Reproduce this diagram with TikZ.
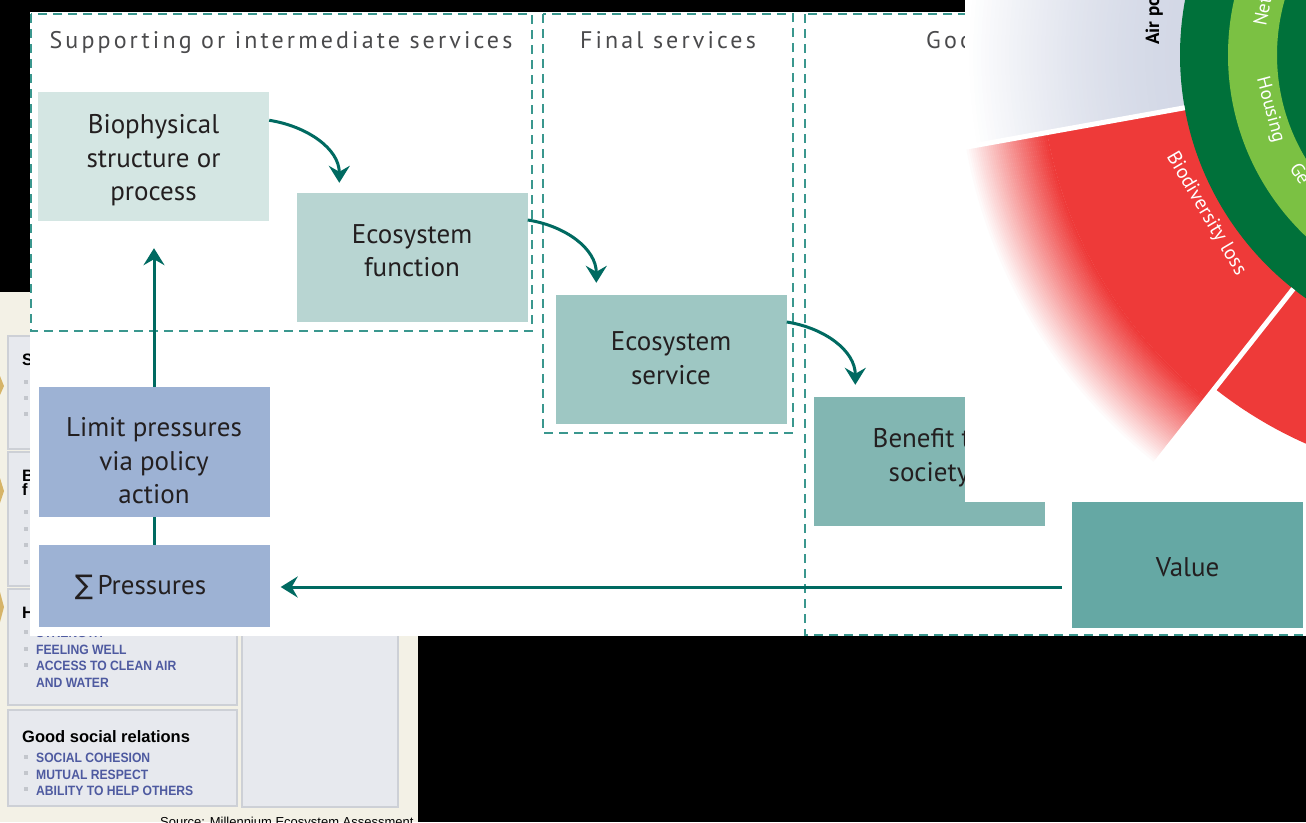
\documentclass[tikz,border=0pt]{standalone}
\usepackage{fontspec}
\setmainfont{PT Sans}
\newfontfamily\titlefont[LetterSpace=13]{PT Sans}
\newfontfamily\arialfont{Liberation Sans}
\newfontfamily\symbfont{DejaVu Sans}
\usetikzlibrary{arrows.meta,calc}
\definecolor{bgbeige}{HTML}{F3F1E6}
\definecolor{panelc}{HTML}{E7E9EE}
\definecolor{paneledge}{HTML}{CDD0D6}
\definecolor{bulletc}{HTML}{C3C6CC}
\definecolor{bluetext}{HTML}{4E5AA0}
\definecolor{tanc}{HTML}{D6B468}
\definecolor{dashc}{HTML}{3A978E}
\definecolor{arrc}{HTML}{006A61}
\definecolor{titlec}{HTML}{4A4A4C}
\definecolor{textc}{HTML}{231F20}
\definecolor{cbio}{HTML}{D4E6E3}
\definecolor{cfunc}{HTML}{B8D5D2}
\definecolor{cserv}{HTML}{9EC7C3}
\definecolor{cben}{HTML}{82B6B2}
\definecolor{cval}{HTML}{65A8A4}
\definecolor{cpress}{HTML}{9DB2D4}
\definecolor{piered}{HTML}{EE3A39}
\definecolor{piegrey}{HTML}{D3D8E6}
\definecolor{dgreen}{HTML}{00713A}
\definecolor{lgreen}{HTML}{7BC143}
\tikzset{
  flowbox/.style={fill=#1, minimum width=231pt, minimum height=129pt, inner sep=0pt},
  boxlabel/.style={align=center, text=textc, font=\fontsize{27}{33.5}\selectfont, inner sep=0pt},
  zone/.style={draw=dashc, line width=2pt, dash pattern=on 9pt off 6pt},
  flowarrow/.style={draw=arrc, line width=3pt, -{Stealth[length=17pt,width=21pt,inset=6pt]}},
  flowline/.style={draw=arrc, line width=3pt},
  zonetitle/.style={text=titlec, font=\titlefont\fontsize{24}{27}\selectfont, inner sep=0pt, anchor=base},
  panel/.style={fill=panelc, draw=paneledge, line width=1.2pt},
  bluelist/.style={text=bluetext, font=\arialfont\bfseries\fontsize{13.5}{15}\selectfont, anchor=base west, inner sep=0pt, xscale=0.9},
  panelhead/.style={text=black, font=\arialfont\bfseries\fontsize{16.5}{18}\selectfont, anchor=base west, inner sep=0pt},
  bulletsq/.style={fill=bulletc},
  pietext/.style={text=white, font=\fontsize{19}{22}\selectfont, inner sep=0pt},
}
\begin{document}
\begin{tikzpicture}[x=1pt,y=-1pt]
\useasboundingbox (0,0) rectangle (1306,822);
\clip (0,0) rectangle (1306,822);
\fill[black] (0,0) rectangle (1306,822);

% ---------- beige image (bottom left) ----------
\fill[bgbeige] (0,292) rectangle (418,822);
\fill[tanc] (0,376) -- (4,386) -- (0,395) -- cycle;
\fill[tanc] (0,478) -- (4,491) -- (0,503) -- cycle;
\fill[tanc] (0,592) -- (4,607) -- (0,622) -- cycle;
\draw[panel] (8,336) rectangle (237,449);
\draw[panel] (8,452) rectangle (237,586);
\draw[panel] (8,589) rectangle (237,705);
\draw[panel] (8,710) rectangle (237,806);
\draw[panel] (242,336) rectangle (398,807);
\node[panelhead] (hs) at (22,365) {S};
\node[panelhead] (hb) at (22,481) {B};
\node[panelhead] (hf) at (22,495) {f};
\node[panelhead] (hh) at (22,618) {H};
\foreach \yy in {380,396,412,510,527,543,560,630,647,663,755,771,787}{
  \fill[bulletsq] (24,\yy) rectangle ++(4,4);
}
\node[bluelist] (t0) at (36,637) {STRENGTH};
\node[bluelist] (t1) at (36,654) {FEELING WELL};
\node[bluelist] (t2) at (36,670) {ACCESS TO CLEAN AIR};
\node[bluelist] (t3) at (36,687) {AND WATER};
\node[panelhead] (hg) at (22,742) {Good social relations};
\node[bluelist] (t4) at (36,762) {SOCIAL COHESION};
\node[bluelist] (t5) at (36,779) {MUTUAL RESPECT};
\node[bluelist] (t6) at (36,795) {ABILITY TO HELP OTHERS};
\node[anchor=base west, inner sep=0pt, text=black, font=\arialfont\fontsize{13}{15}\selectfont] (src) at (160,826) {Source: Millennium Ecosystem Assessment};

% ---------- main white diagram ----------
\fill[white] (29.5,12) rectangle (1306,636);
\draw[zone] (31,14) rectangle (532,331);
\draw[zone] (543,14) rectangle (793,433);
\draw[zone] (805,14) rectangle (1330,635);
\node[zonetitle] (z1) at (281,48) {Supporting or intermediate services};
\node[zonetitle] (z2) at (668,48) {Final services};
\node[zonetitle, anchor=base west] (z3) at (926,48) {Goo};

\node[flowbox=cbio, label={[boxlabel, yshift=-4pt]center:{Biophysical\\structure or\\process}}] (bio) at (153.5,156.5) {};
\node[flowbox=cfunc, label={[boxlabel, yshift=7pt]center:{Ecosystem\\function}}] (func) at (412,257.5) {};
\node[flowbox=cserv, label={[boxlabel, yshift=1.5pt]center:{Ecosystem\\service}}] (serv) at (671,359.5) {};
\node[flowbox=cben, label={[boxlabel, yshift=4pt]center:{Benefit t\phantom{o}\\society}}] (ben) at (929,461.5) {};
\node[flowbox=cval, minimum height=126pt, label={[boxlabel, yshift=-2pt]center:Value}] (val) at (1187.5,565) {};
\node[flowbox=cpress, minimum height=130pt, label={[boxlabel, yshift=-9pt]center:{Limit pressures\\via policy\\action}}] (lim) at (154,452) {};
\node[flowbox=cpress, minimum height=82pt, label={[boxlabel, xshift=-13.5pt, yshift=-1pt]center:{{\symbfont ∑}\,Pressures}}] (press) at (154,586) {};

\coordinate (a1s) at ($(bio.north east)!0.22!(bio.south east)$);
\coordinate (a1e) at ($(func.north west)+(43,-10)$);
\draw[flowarrow] (a1s) .. controls ($(a1s)+(38,6)$) and ($(a1e)+(0,-34)$) .. (a1e);
\coordinate (a2s) at ($(func.north east)!0.21!(func.south east)$);
\coordinate (a2e) at ($(serv.north west)+(41,-12)$);
\draw[flowarrow] (a2s) .. controls ($(a2s)+(38,6)$) and ($(a2e)+(0,-34)$) .. (a2e);
\coordinate (a3s) at ($(serv.north east)!0.21!(serv.south east)$);
\coordinate (a3e) at ($(ben.north west)+(42,-12)$);
\draw[flowarrow] (a3s) .. controls ($(a3s)+(38,6)$) and ($(a3e)+(0,-34)$) .. (a3e);

\draw[flowarrow] (lim.north) -- ($(bio.south)+(0.5,27)$);
\draw[flowline] (press.north) -- (lim.south);
\coordinate (pend) at ($(press.east)+(11,1)$);
\draw[flowarrow] ($(pend -| val.west)+(-10,0)$) -- (pend);

% ---------- pie image (top right) ----------
\begin{scope}
\clip (965,0) rectangle (1306,502);
\fill[white] (965,0) rectangle (1306,502);
\coordinate (pc) at (1478,55);
\foreach \i in {0,...,53}{
  \pgfmathsetmacro{\rr}{299+4*\i}
  \pgfmathsetmacro{\pp}{max(0,100*(1-((\rr-297)/214)^1.6))}
  \draw[piegrey!\pp!white, line width=4.6pt] ($(pc)+(169.8:\rr)$) arc[start angle=169.8, end angle=280, radius=\rr];
}
\fill[piered] ($(pc)+(128.3:296)$) arc[start angle=128.3, end angle=169.8, radius=296] -- ($(pc)+(169.8:438)$) arc[start angle=169.8, end angle=128.3, radius=438] -- cycle;
\foreach \i in {0,...,40}{
  \pgfmathsetmacro{\rr}{439+2*\i}
  \pgfmathsetmacro{\pp}{100*(1-\i/41)}
  \draw[piered!\pp!white, line width=2.4pt] ($(pc)+(128.3:\rr)$) arc[start angle=128.3, end angle=169.8, radius=\rr];
}
\fill[piered] ($(pc)+(40:296)$) arc[start angle=40, end angle=128.3, radius=296] -- ($(pc)+(128.3:425)$) arc[start angle=128.3, end angle=40, radius=425] -- cycle;
\fill[dgreen] (pc) circle[radius=298];
\fill[lgreen, even odd rule] (pc) circle[radius=250] (pc) circle[radius=201];
\draw[white, line width=5pt] ($(pc)+(169.8:298)$) -- ($(pc)+(169.8:545)$);
\draw[white, line width=5pt] ($(pc)+(128.3:298)$) -- ($(pc)+(128.3:545)$);
\node[rotate=90, anchor=base west, inner sep=0pt, text=black, font=\bfseries\fontsize{19}{22}\selectfont] (air) at (1159,45) {Air po};
\node[pietext, rotate=79, anchor=base west] (net) at (1266,27) {Net};
\node[pietext, rotate=-75] (hous) at (1270,110) {Housing};
\node[pietext, rotate=-57, anchor=base west] (gen) at (1289,168) {Ge};
\node[pietext, rotate=-59.5, font=\fontsize{20}{22}\selectfont] (bio2) at (1206,214) {Biodiversity loss};
\end{scope}
\end{tikzpicture}
\end{document}
